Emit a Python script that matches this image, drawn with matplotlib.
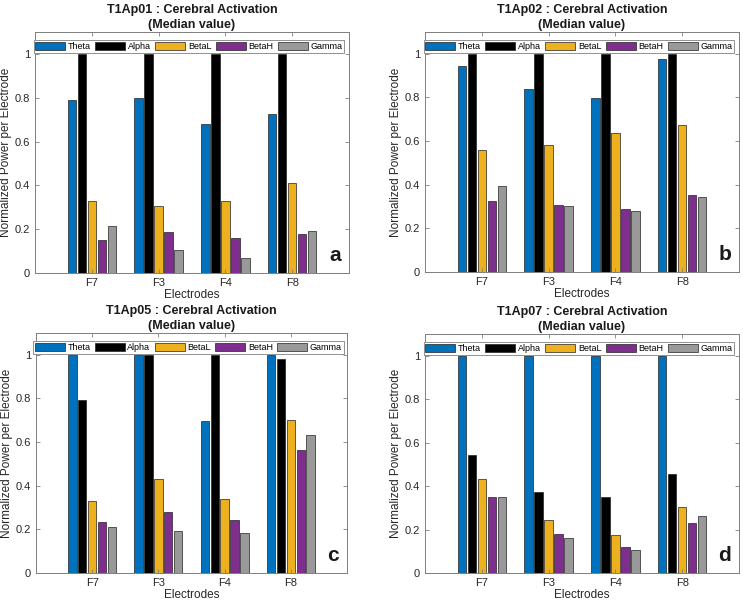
import matplotlib.pyplot as plt
import numpy as np

plt.rcParams['font.family'] = ['Liberation Sans', 'DejaVu Sans']

electrodes = ["F7", "F3", "F4", "F8"]
bands = ["Theta", "Alpha", "BetaL", "BetaH", "Gamma"]
colors = ["#0072BD", "#000000", "#EDB120", "#7E2F8E", "#999999"]

titles = ["T1Ap01", "T1Ap02", "T1Ap05", "T1Ap07"]
letters = ["a", "b", "c", "d"]

# rows = bands, cols = electrodes
ap01 = [[0.79, 0.80, 0.68, 0.726],
        [1.0, 1.0, 1.0, 1.0],
        [0.329, 0.306, 0.327, 0.412],
        [0.151, 0.189, 0.161, 0.178],
        [0.213, 0.107, 0.067, 0.19]]
ap02 = [[0.945, 0.837, 0.799, 0.974],
        [1.0, 1.0, 1.0, 1.0],
        [0.559, 0.583, 0.635, 0.673],
        [0.326, 0.307, 0.289, 0.353],
        [0.393, 0.301, 0.280, 0.346]]
ap05 = [[1.0, 1.0, 0.697, 1.0],
        [0.792, 1.0, 1.0, 0.980],
        [0.330, 0.429, 0.340, 0.699],
        [0.233, 0.281, 0.241, 0.566],
        [0.210, 0.193, 0.182, 0.634]]
ap07 = [[1.0, 1.0, 1.0, 1.0],
        [0.545, 0.372, 0.348, 0.457],
        [0.432, 0.243, 0.173, 0.306],
        [0.350, 0.180, 0.119, 0.232],
        [0.348, 0.163, 0.108, 0.262]]
panels = [ap01, ap02, ap05, ap07]

W, H = 743, 604
fig = plt.figure(figsize=(W / 100, H / 100), dpi=100)

# axes boxes in pixels: left, top, right, bottom
boxes = [(35, 32, 349, 273), (425, 32, 739, 272),
         (36, 333, 347, 573), (425, 334, 739, 573)]

x = np.arange(1, len(electrodes) + 1)
step = 0.15
bw = 0.125
axcol = "#7f7f7f"
txtcol = "#262626"

for data, name, letter, (l, t, r, b) in zip(panels, titles, letters, boxes):
    ax = fig.add_axes([l / W, (H - b) / H, (r - l) / W, (b - t) / H])
    for i, band in enumerate(bands):
        ax.bar(x + (i - 2) * step, data[i], width=bw, color=colors[i],
               edgecolor="#222222", linewidth=0.5, label=band)
    ax.set_xlim(0.15, 4.85)
    ax.set_ylim(0, 1.1)
    ax.set_xticks(x)
    ax.set_xticklabels(electrodes)
    ax.set_yticks([0, 0.2, 0.4, 0.6, 0.8, 1.0])
    ax.set_yticklabels(["0", "0.2", "0.4", "0.6", "0.8", "1"])
    ax.tick_params(direction="in", length=3, width=0.6, colors=axcol,
                   labelcolor=txtcol, labelsize=8, top=True, right=True)
    for s in ax.spines.values():
        s.set_color(axcol)
        s.set_linewidth(0.7)
    ax.set_xlabel("Electrodes", fontsize=8.5, color=txtcol, labelpad=1)
    ax.set_ylabel("Normalized Power per Electrode", fontsize=8.5, color=txtcol, labelpad=2)
    ax.set_title(name + " : Cerebral Activation\n(Median value)",
                 fontsize=9, fontweight="bold", color="#1a1a1a", pad=3,
                 linespacing=1.3)
    leg = ax.legend(loc="upper center", bbox_to_anchor=(0.49, 0.965),
                    ncol=5, fontsize=6.5, handlelength=3.3,
                    handleheight=1.0, handletextpad=0.3, borderpad=0.2,
                    borderaxespad=0, columnspacing=0.5, fancybox=False,
                    framealpha=1)
    leg.get_frame().set_edgecolor(axcol)
    leg.get_frame().set_linewidth(0.6)
    ax.text(0.955, 0.035, letter, transform=ax.transAxes, fontsize=15,
            fontweight="bold", ha="center", va="bottom", color="#1a1a1a")

fig.savefig("out.png", dpi=100)
